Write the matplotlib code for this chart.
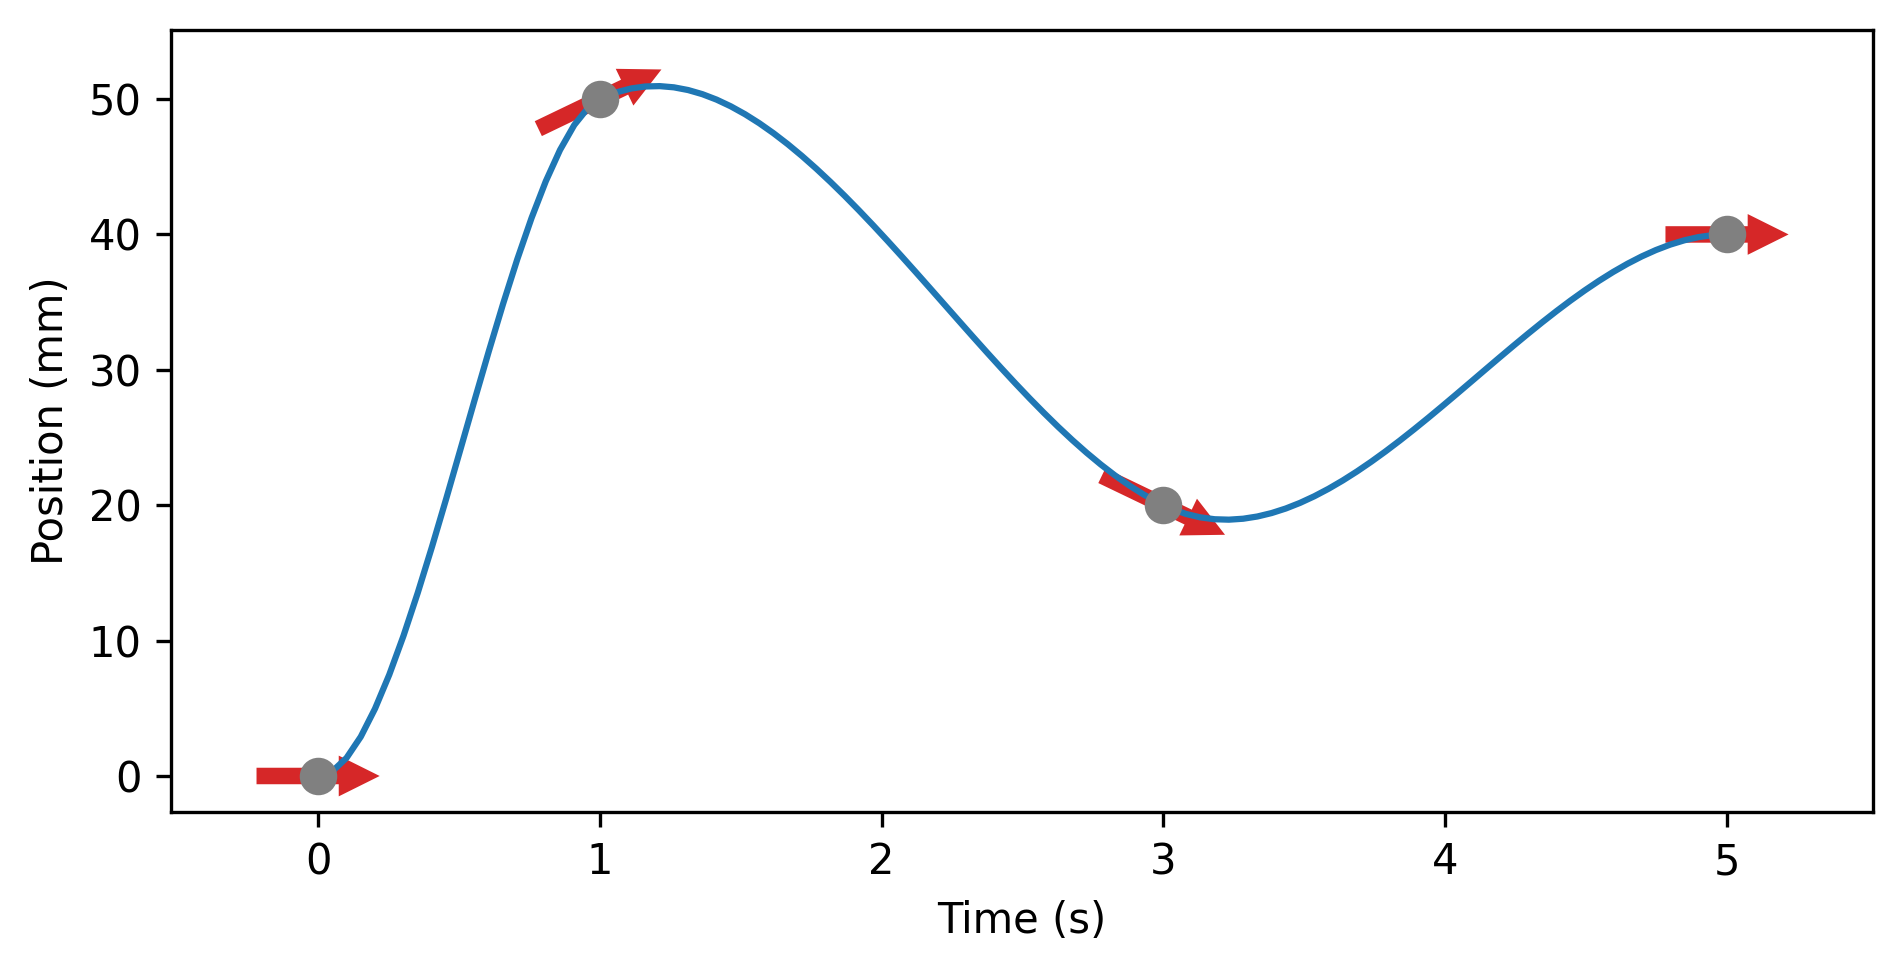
import numpy as np
import matplotlib
matplotlib.use("Agg")
import matplotlib.pyplot as plt

# Key points: time (s), position (mm), velocity (mm/s)
times = [0, 1, 3, 5]
positions = [0, 50, 20, 40]
velocities = [0, 10, -10, 0]

x_ticks = [0, 1, 2, 3, 4, 5]
y_ticks = [0, 10, 20, 30, 40, 50]


def hermite(t_k, p_k, v_k, t):
    t_k = np.asarray(t_k, float)
    p_k = np.asarray(p_k, float)
    v_k = np.asarray(v_k, float)
    out = np.empty_like(t)
    idx = np.clip(np.searchsorted(t_k, t, side="right") - 1, 0, len(t_k) - 2)
    for i, tt in enumerate(t):
        k = idx[i]
        h = t_k[k + 1] - t_k[k]
        s = (tt - t_k[k]) / h
        h00 = 2 * s**3 - 3 * s**2 + 1
        h10 = s**3 - 2 * s**2 + s
        h01 = -2 * s**3 + 3 * s**2
        h11 = s**3 - s**2
        out[i] = h00 * p_k[k] + h10 * h * v_k[k] + h01 * p_k[k + 1] + h11 * h * v_k[k + 1]
    return out


fig = plt.figure(figsize=(1902 / 300, 972 / 300), dpi=300)
ax = fig.add_axes([171 / 1902, 1 - 812 / 972, (1873 - 171) / 1902, (812 - 30) / 972])
ax.set_xlim(-0.522, 5.518)
ax.set_ylim(-2.66, 55.10)

tt = np.linspace(times[0], times[-1], 100)
yy = hermite(times, positions, velocities, tt)

ax.quiver(times, positions, np.ones(len(times)), velocities, angles="xy",
          pivot="mid", color="tab:red", units="inches", width=16.5 / 300,
          headwidth=2.47, headlength=2.48, headaxislength=2.48,
          scale_units="xy", scale=1 / 0.437, zorder=1)
ax.plot(tt, yy, color="tab:blue", lw=1.5, zorder=2)
ax.plot(times, positions, "o", color="gray", markersize=8, zorder=3)

ax.set_xticks(x_ticks)
ax.set_yticks(y_ticks)
ax.set_xlabel("Time (s)")
ax.set_ylabel("Position (mm)")

fig.savefig("out.png", dpi=300)
